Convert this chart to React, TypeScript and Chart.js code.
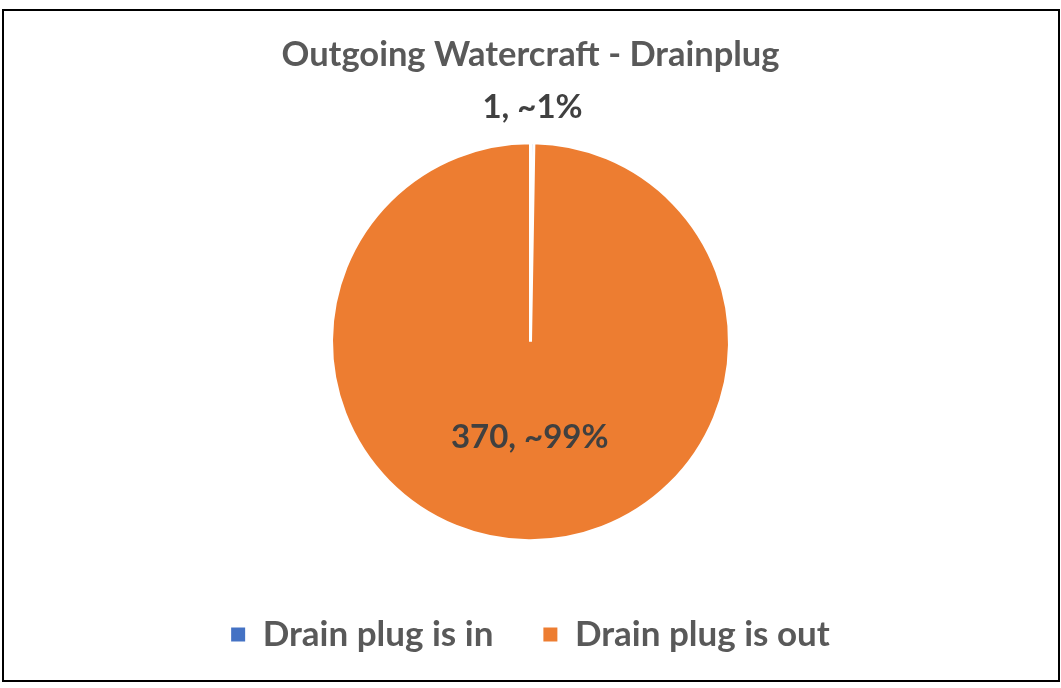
import React, { useEffect, useRef } from "react";
import { Chart, registerables } from "chart.js";

Chart.register(...registerables);

const titleText = "Outgoing Watercraft - Drainplug";
const categories = ["Drain plug is in", "Drain plug is out"];
const counts = [1, 370];
const percentLabels = ["~1%", "~99%"];
const colors = ["#4472C4", "#ED7D31"];

const FONT = "Lato, 'Open Sans', sans-serif";

const labelPlugin = {
  id: "sliceLabels",
  afterDatasetsDraw(chart: any) {
    const ctx = chart.ctx;
    const meta = chart.getDatasetMeta(0);
    ctx.save();
    ctx.font = `bold 33px ${FONT}`;
    ctx.fillStyle = "#404040";
    ctx.textAlign = "center";
    ctx.textBaseline = "middle";
    meta.data.forEach((arc: any, i: number) => {
      const { x, y, startAngle, endAngle, outerRadius } = arc.getProps(
        ["x", "y", "startAngle", "endAngle", "outerRadius"],
        true
      );
      const mid = (startAngle + endAngle) / 2;
      const frac = (endAngle - startAngle) / (Math.PI * 2);
      const dist = frac < 0.05 ? outerRadius + 35 : outerRadius * 0.48;
      const lx = x + Math.cos(mid) * dist;
      const ly = y + Math.sin(mid) * dist;
      ctx.fillText(`${counts[i]}, ${percentLabels[i]}`, lx, ly);
    });
    ctx.restore();
  },
};

export default function App() {
  const ref = useRef<HTMLCanvasElement | null>(null);
  useEffect(() => {
    if (!ref.current) return;
    const chart = new Chart(ref.current, {
      type: "pie",
      data: {
        labels: categories,
        datasets: [
          {
            data: counts,
            backgroundColor: colors,
            borderColor: "#ffffff",
            borderWidth: 3,
            hoverOffset: 0,
          },
        ],
      },
      options: {
        responsive: false,
        animation: false,
        radius: 199,
        layout: { padding: { top: 0, bottom: 26, left: 0, right: 0 } },
        plugins: {
          title: {
            display: true,
            text: titleText,
            color: "#595959",
            font: { family: FONT, size: 34.5, weight: "bold" },
            padding: { top: 34, bottom: 41 },
          },
          legend: {
            display: true,
            position: "bottom",
            labels: {
              color: "#595959",
              font: { family: FONT, size: 35, weight: "bold" },
              boxWidth: 14,
              boxHeight: 14,
              padding: 50,
              generateLabels: (c: any) => {
                const items = (Chart as any).overrides.pie.plugins.legend.labels.generateLabels(c);
                return items.map((it: any) => ({ ...it, lineWidth: 0, strokeStyle: it.fillStyle }));
              },
            },
          },
          tooltip: { enabled: false },
        },
      } as any,
      plugins: [labelPlugin],
    });
    return () => chart.destroy();
  }, []);
  return (
    <div style={{ position: "fixed", left: 0, top: 0, width: 1061, height: 688, background: "#fff" }}>
      <canvas ref={ref} width={1061} height={688} style={{ position: "absolute", left: 0, top: 0 }} />
      <div
        style={{
          position: "absolute",
          left: 2,
          top: 9,
          width: 1054,
          height: 669,
          border: "2px solid #000",
          pointerEvents: "none",
        }}
      />
    </div>
  );
}
